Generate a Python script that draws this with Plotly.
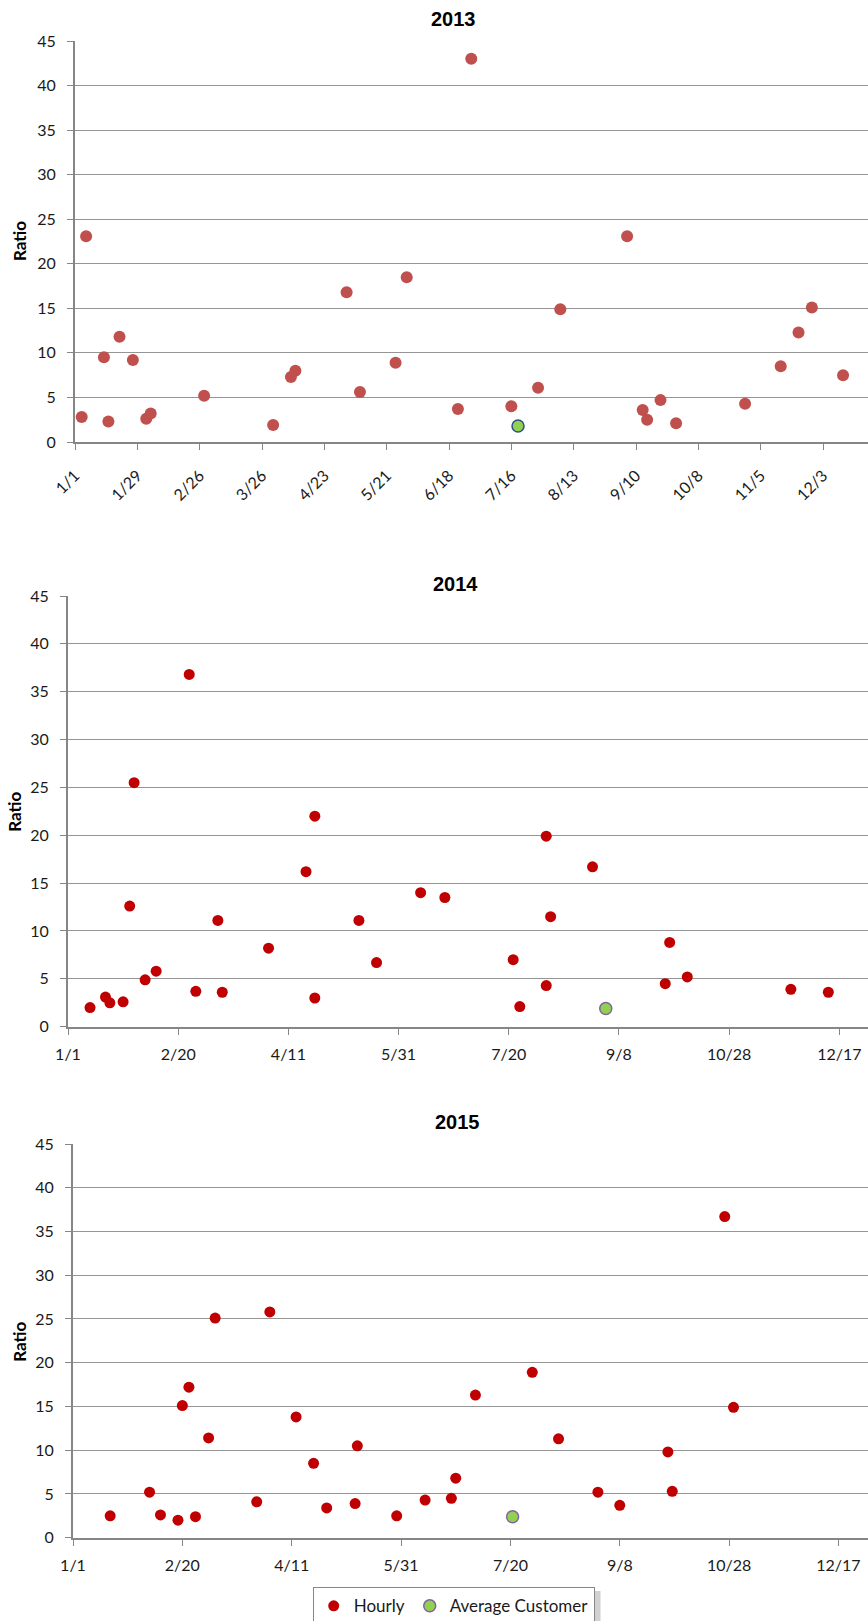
import plotly.graph_objects as go

# ---------------- data ----------------
# 2013
hourly_2013_dates = ["2013-01-04", "2013-01-06", "2013-01-14", "2013-01-16", "2013-01-21", "2013-01-27",
                     "2013-02-02", "2013-02-04", "2013-02-28", "2013-03-31", "2013-04-08", "2013-04-10",
                     "2013-05-03", "2013-05-09", "2013-05-25", "2013-05-30", "2013-06-22", "2013-06-28",
                     "2013-07-16", "2013-07-28", "2013-08-07", "2013-09-06", "2013-09-13", "2013-09-15",
                     "2013-09-21", "2013-09-28", "2013-10-29", "2013-11-14", "2013-11-22", "2013-11-28",
                     "2013-12-12"]
hourly_2013_vals = [2.8, 23.1, 9.5, 2.3, 11.8, 9.2,
                    2.6, 3.2, 5.2, 1.9, 7.3, 8.0,
                    16.8, 5.6, 8.9, 18.5, 3.7, 43.0,
                    4.0, 6.1, 14.9, 23.1, 3.6, 2.5,
                    4.7, 2.1, 4.3, 8.5, 12.3, 15.1,
                    7.5]
avg_2013_dates = ["2013-07-19"]
avg_2013_vals = [1.8]

# 2014
hourly_2014_dates = ["2014-01-11", "2014-01-18", "2014-01-20", "2014-01-26", "2014-01-29", "2014-01-31",
                     "2014-02-05", "2014-02-10", "2014-02-25", "2014-02-28", "2014-03-10", "2014-03-12",
                     "2014-04-02", "2014-04-19", "2014-04-23", "2014-04-23", "2014-05-13", "2014-05-21",
                     "2014-06-10", "2014-06-21", "2014-07-22", "2014-07-25", "2014-08-06", "2014-08-06",
                     "2014-08-08", "2014-08-27", "2014-09-29", "2014-10-01", "2014-10-09", "2014-11-25",
                     "2014-12-12"]
hourly_2014_vals = [2.0, 3.1, 2.5, 2.6, 12.6, 25.5,
                    4.9, 5.8, 36.8, 3.7, 11.1, 3.6,
                    8.2, 16.2, 22.0, 3.0, 11.1, 6.7,
                    14.0, 13.5, 7.0, 2.1, 19.9, 4.3,
                    11.5, 16.7, 4.5, 8.8, 5.2, 3.9,
                    3.6]
avg_2014_dates = ["2014-09-02"]
avg_2014_vals = [1.9]

# 2015
hourly_2015_dates = ["2015-01-18", "2015-02-05", "2015-02-10", "2015-02-18", "2015-02-20", "2015-02-23",
                     "2015-02-26", "2015-03-04", "2015-03-07", "2015-03-26", "2015-04-01", "2015-04-13",
                     "2015-04-21", "2015-04-27", "2015-05-10", "2015-05-11", "2015-05-29", "2015-06-11",
                     "2015-06-23", "2015-06-25", "2015-07-04", "2015-07-30", "2015-08-11", "2015-08-29",
                     "2015-09-08", "2015-09-30", "2015-10-02", "2015-10-26", "2015-10-30"]
hourly_2015_vals = [2.5, 5.2, 2.6, 2.0, 15.1, 17.2,
                    2.4, 11.4, 25.1, 4.1, 25.8, 13.8,
                    8.5, 3.4, 3.9, 10.5, 2.5, 4.3,
                    4.5, 6.8, 16.3, 18.9, 11.3, 5.2,
                    3.7, 9.8, 5.3, 36.7, 14.9]
avg_2015_dates = ["2015-07-21"]
avg_2015_vals = [2.4]

# tick labels
ticks_2013_dates = ["2013-01-01", "2013-01-29", "2013-02-26", "2013-03-26", "2013-04-23", "2013-05-21",
                    "2013-06-18", "2013-07-16", "2013-08-13", "2013-09-10", "2013-10-08", "2013-11-05",
                    "2013-12-03"]
ticks_2013_text = ["1/1", "1/29", "2/26", "3/26", "4/23", "5/21", "6/18", "7/16", "8/13", "9/10",
                   "10/8", "11/5", "12/3"]
ticks_2014_dates = ["2014-01-01", "2014-02-20", "2014-04-11", "2014-05-31", "2014-07-20", "2014-09-08",
                    "2014-10-28", "2014-12-17"]
ticks_2015_dates = ["2015-01-01", "2015-02-20", "2015-04-11", "2015-05-31", "2015-07-20", "2015-09-08",
                    "2015-10-28", "2015-12-17"]
ticks_1415_text = ["1/1", "2/20", "4/11", "5/31", "7/20", "9/8", "10/28", "12/17"]

titles = ["2013", "2014", "2015"]
y_title = "Ratio"
series_names = ["Hourly", "Average Customer"]

# ---------------- styling ----------------
W, H = 868, 1621
RED13 = "#C0504D"
RED = "#C00000"
GREEN = "#92D050"
OUT13 = "#2F4F8A"
OUT = "#8064A2"
AXIS = "#868686"
GRID = "#959595"
FONT = "Lato"


def px_x(x):
    return x / W


def px_y(y):
    return 1 - y / H


fig = go.Figure()

# chart 1
fig.add_trace(go.Scatter(x=hourly_2013_dates, y=hourly_2013_vals, mode="markers", xaxis="x", yaxis="y",
                         marker=dict(color=RED13, size=12, line=dict(width=0)), showlegend=False,
                         name=series_names[0]))
fig.add_trace(go.Scatter(x=avg_2013_dates, y=avg_2013_vals, mode="markers", xaxis="x", yaxis="y",
                         marker=dict(color=GREEN, size=12, line=dict(width=1.5, color=OUT13)), showlegend=False,
                         name=series_names[1]))
# chart 2
fig.add_trace(go.Scatter(x=hourly_2014_dates, y=hourly_2014_vals, mode="markers", xaxis="x2", yaxis="y2",
                         marker=dict(color=RED, size=11, line=dict(width=0)), showlegend=False,
                         name=series_names[0]))
fig.add_trace(go.Scatter(x=avg_2014_dates, y=avg_2014_vals, mode="markers", xaxis="x2", yaxis="y2",
                         marker=dict(color=GREEN, size=12, line=dict(width=1.5, color=OUT)), showlegend=False,
                         name=series_names[1]))
# chart 3
fig.add_trace(go.Scatter(x=hourly_2015_dates, y=hourly_2015_vals, mode="markers", xaxis="x3", yaxis="y3",
                         marker=dict(color=RED, size=11, line=dict(width=0)), showlegend=True,
                         name=series_names[0]))
fig.add_trace(go.Scatter(x=avg_2015_dates, y=avg_2015_vals, mode="markers", xaxis="x3", yaxis="y3",
                         marker=dict(color=GREEN, size=12, line=dict(width=1.5, color=OUT)), showlegend=True,
                         name=series_names[1]))

tickfont = dict(family=FONT, size=16, color="#1a1a1a")


def yaxis(anchor, top, bottom):
    return dict(anchor=anchor, domain=[px_y(bottom), px_y(top)], range=[0, 45], dtick=5,
                showgrid=True, gridcolor=GRID, gridwidth=1, zeroline=False,
                showline=True, linecolor=AXIS, linewidth=2,
                ticks="outside", ticklen=6, tickcolor=AXIS, tickwidth=1,
                tickfont=tickfont, ticklabelstandoff=8, fixedrange=True, automargin=False)


def xaxis(anchor, left, rng, tickvals, ticktext, angle, standoff):
    return dict(anchor=anchor, domain=[px_x(left), 1.0], type="date", range=rng,
                tickmode="array", tickvals=tickvals, ticktext=ticktext, tickangle=angle,
                showgrid=False, zeroline=False, showline=True, linecolor=AXIS, linewidth=2,
                ticks="outside", ticklen=6, tickcolor=AXIS, tickwidth=1,
                tickfont=tickfont, ticklabelstandoff=standoff, fixedrange=True, automargin=False)


fig.update_layout(
    width=W, height=H,
    margin=dict(l=0, r=0, t=0, b=0, autoexpand=False),
    paper_bgcolor="white", plot_bgcolor="white",
    font=dict(family=FONT, color="#1a1a1a"),
    xaxis=xaxis("y", 75, ["2013-01-01", "2013-12-23 05:00"], ticks_2013_dates, ticks_2013_text, -45, 10),
    yaxis=yaxis("x", 41, 442),
    xaxis2=xaxis("y2", 68, ["2014-01-01", "2014-12-30"], ticks_2014_dates, ticks_1415_text, 0, 6),
    yaxis2=yaxis("x2", 596, 1026.7),
    xaxis3=xaxis("y3", 73, ["2015-01-01", "2015-12-30 12:00"], ticks_2015_dates, ticks_1415_text, 0, 6),
    yaxis3=yaxis("x3", 1144, 1537.7),
    legend=dict(orientation="h", x=px_x(312.7), y=px_y(1587.3), xanchor="left", yanchor="top",
                bgcolor="white", bordercolor=AXIS, borderwidth=1,
                font=dict(family=FONT, size=17, color="#1a1a1a"), itemwidth=30,
                traceorder="normal"),
    showlegend=True,
)

# legend shadow
fig.add_shape(type="rect", xref="paper", yref="paper", layer="below",
              x0=px_x(316), x1=px_x(600.5), y0=px_y(1625), y1=px_y(1591),
              fillcolor="rgba(0,0,0,0.18)", line=dict(width=0))

annotations = []
title_pos = [(453, 19.5), (456, 583.5), (457, 1122)]
for t, (tx, ty) in zip(titles, title_pos):
    annotations.append(dict(text=f"<b>{t}</b>", x=px_x(tx), y=px_y(ty), xref="paper", yref="paper",
                            showarrow=False, xanchor="center", yanchor="middle",
                            font=dict(family="Liberation Sans", size=20, color="black")))
ratio_pos = [(19, 241), (15, 811.7), (20, 1341.7)]
for rx, ry in ratio_pos:
    annotations.append(dict(text=f"<b>{y_title}</b>", x=px_x(rx), y=px_y(ry), xref="paper", yref="paper",
                            showarrow=False, xanchor="center", yanchor="middle", textangle=-90,
                            font=dict(family=FONT, size=17, color="black")))
fig.update_layout(annotations=annotations)

fig.write_html("out.html", config={"displayModeBar": False},
               post_script="document.body.style.margin='0';document.body.style.overflow='hidden';")
